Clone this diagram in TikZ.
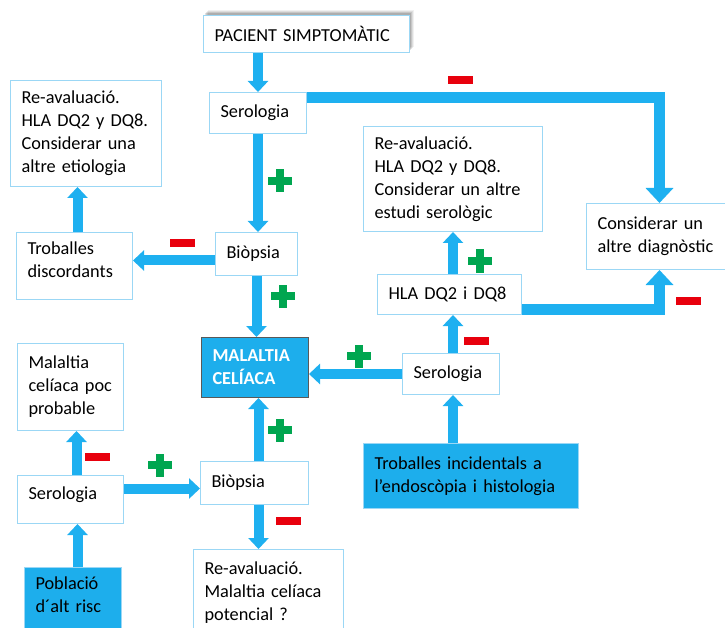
\documentclass[tikz,border=0pt]{standalone}
\usepackage{fontspec}
\setmainfont{Carlito}
\usetikzlibrary{arrows.meta,calc}

\definecolor{flowblue}{HTML}{1EB0F0}
\definecolor{boxblue}{HTML}{1DAEEC}
\definecolor{edgeblue}{HTML}{9BD7F5}
\definecolor{minusred}{HTML}{E8000D}
\definecolor{plusgreen}{HTML}{00A650}

\begin{document}
\begin{tikzpicture}[x=1pt,y=-1pt,
  font=\fontsize{18.3}{23}\selectfont,
  card/.style={draw=edgeblue, line width=1pt, fill=white, align=left,
    inner xsep=11pt, inner ysep=4pt, anchor=north west},
  solidcard/.style={card, fill=boxblue, draw=edgeblue},
  flow/.style={draw=flowblue, line width=10pt, line join=miter,
    -{Triangle[width=20pt,length=11pt]}},
  bigflow/.style={flow, line width=11pt,
    -{Triangle[width=27pt,length=15pt]}},
  plussign/.pic={
    \fill[plusgreen] (-12,-4) rectangle (12,4);
    \fill[plusgreen] (-4,-11.5) rectangle (4,11.5);},
  minussign/.pic={
    \fill[minusred] (-12.5,-4) rectangle (12.5,4);}
]
\useasboundingbox[fill=white] (0,0) rectangle (725,628);

% soft shadow behind the starting box
\foreach \o/\a in {5/0.06,4/0.08,3/0.10,2/0.12}
  \fill[black,opacity=\a] (203+\o,15-\o) rectangle (409+\o,52-\o);

% boxes
\node[card, minimum width=206pt, minimum height=37pt, text width=184pt]
  (pac) at (203,15) {PACIENT SIMPTOMÀTIC};
\node[card, minimum width=97pt, minimum height=41pt, text width=75pt]
  (ser1) at (209,92) {Serologia};
\node[card, minimum width=151pt, minimum height=106pt, text width=129pt]
  (reL) at (10,80) {Re-avaluació.\\HLA DQ2 y DQ8.\\Considerar una\\altre etiologia};
\node[card, minimum width=116pt, minimum height=67pt, text width=94pt]
  (trobD) at (16,232) {Troballes\\discordants\rule[-12pt]{0pt}{0pt}};
\node[card, minimum width=82pt, minimum height=43pt, text width=60pt]
  (bio1) at (215,232) {Biòpsia};
\node[card, minimum width=179pt, minimum height=105pt, text width=157pt]
  (reR) at (363,126) {Re-avaluació.\\HLA DQ2 y DQ8.\\Considerar un altre\\estudi serològic};
\node[card, minimum width=146pt, minimum height=66pt, text width=124pt]
  (cons) at (586,203) {Considerar un\\altre diagnòstic};
\node[card, minimum width=144pt, minimum height=40pt, text width=122pt]
  (hla) at (377,274) {HLA DQ2 i DQ8};
\node[card, minimum width=97pt, minimum height=41pt, text width=75pt]
  (ser2) at (402,353) {Serologia};
\node[card, fill=boxblue, draw=black!65, text=white,
  minimum width=107pt, minimum height=60pt, text width=85pt]
  (mal) at (201,337) {\bfseries MALALTIA\\\bfseries CELÍACA};
\node[solidcard, minimum width=215pt, minimum height=65pt, text width=193pt]
  (trobI) at (363,443) {Troballes incidentals a\\l’endoscòpia i histologia};
\node[card, minimum width=106pt, minimum height=87pt, text width=84pt]
  (poc) at (17,343) {Malaltia\\celíaca poc\\probable};
\node[card, minimum width=106pt, minimum height=48pt, text width=84pt]
  (ser3) at (17,475) {Serologia\rule[-12pt]{0pt}{0pt}};
\node[card, minimum width=108pt, minimum height=43pt, text width=86pt]
  (bio2) at (200,461) {Biòpsia};
\node[card, minimum width=150pt, text width=128pt, inner ysep=12pt]
  (reB) at (193,549) {Re-avaluació.\\Malaltia celíaca\\potencial ?\rule[-40pt]{0pt}{0pt}};
\node[solidcard, minimum width=97pt, text width=75pt, inner ysep=9pt]
  (pob) at (24,567) {Població\\d´alt risc\rule[-40pt]{0pt}{0pt}};

% connectors
\draw[flow] (ser1.north |- pac.south) -- (ser1.north);
\draw[flow] (ser1.south) -- (ser1.south |- bio1.north);
\draw[bigflow] ([yshift=15pt]ser1.east) -| (cons.north);
\draw[flow] ([yshift=-6.5pt]bio1.west) -- ([yshift=-6.5pt]bio1.west -| trobD.east);
\draw[flow] ([xshift=3pt]trobD.north) -- ([xshift=3pt]trobD.north |- reL.south);
\draw[flow] (bio1.south) -- (bio1.south |- mal.north);
\draw[flow] (ser2.west) -- (ser2.west -| mal.east);
\draw[flow] ([xshift=2pt]ser2.north) -- ([xshift=2pt]ser2.north |- hla.south);
\draw[flow] ([xshift=3.5pt]hla.north) -- ([xshift=3.5pt]hla.north |- reR.south);
\draw[bigflow] ([yshift=-14.5pt]hla.east) -| (cons.south);
\draw[flow] ([xshift=2pt]ser2.south |- trobI.north) -- ([xshift=2pt]ser2.south);
\draw[flow] ([xshift=6pt]ser3.north) -- ([xshift=6pt]ser3.north |- poc.south);
\draw[flow] ([yshift=11pt]ser3.east) -- ([yshift=11pt]ser3.east -| bio2.west);
\draw[flow] ([xshift=4pt]bio2.north) -- ([xshift=4pt]bio2.north |- mal.south);
\draw[flow] ([xshift=4pt]bio2.south) -- ([xshift=4pt]bio2.south |- reB.north);
\draw[flow] ([xshift=4.5pt]pob.north) -- ([xshift=4.5pt]pob.north |- ser3.south);

% outcome marks
\pic at (280,181) {plussign};
\pic at (283,296) {plussign};
\pic at (480,261) {plussign};
\pic at (359,356) {plussign};
\pic at (160,465) {plussign};
\pic at (280,430) {plussign};
\pic at (460,80) {minussign};
\pic at (182,243) {minussign};
\pic at (688,301) {minussign};
\pic at (476,341) {minussign};
\pic at (97,457) {minussign};
\pic at (288,521) {minussign};
\end{tikzpicture}
\end{document}
